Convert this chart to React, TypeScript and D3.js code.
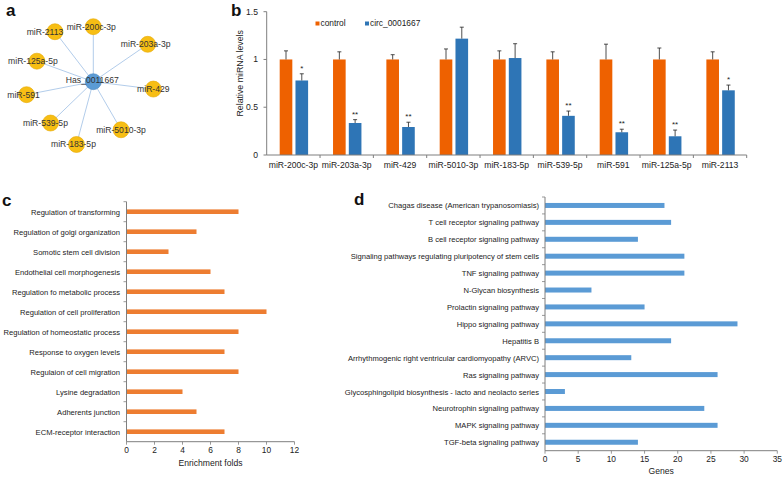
import React from 'react'
import * as d3 from 'd3'

// panel a - network
const hubName = 'Has_0011667'
const mirNodes = ['miR-200c-3p', 'miR-203a-3p', 'miR-429', 'miR-5010-3p', 'miR-183-5p', 'miR-539-5p', 'miR-591', 'miR-125a-5p', 'miR-2113']
const nodeAngles = [0, 55.5, 97, 150, 195, 226, 259, 290, 322.5]
const nodeDist = [55, 66, 60.5, 55.5, 65, 59.5, 68, 60, 63]
const labelDx = [-2, -2, 0, 0, -3, -5, -3, -4, -10]

// panel b - qPCR
const mirCats = ['miR-200c-3p', 'miR-203a-3p', 'miR-429', 'miR-5010-3p', 'miR-183-5p', 'miR-539-5p', 'miR-591', 'miR-125a-5p', 'miR-2113']
const seriesNames = ['control', 'circ_0001667']
const controlVals = [1, 1, 1, 1, 1, 1, 1, 1, 1]
const controlErr = [0.09, 0.08, 0.05, 0.11, 0.09, 0.08, 0.16, 0.12, 0.08]
const circVals = [0.78, 0.335, 0.293, 1.218, 1.015, 0.41, 0.238, 0.196, 0.677]
const circErr = [0.07, 0.035, 0.05, 0.12, 0.15, 0.05, 0.032, 0.065, 0.055]
const circSig = ['*', '**', '**', '', '', '**', '**', '**', '*']
const bTicks = [0, 0.5, 1, 1.5]

// panel c - GO enrichment
const goTerms = ['Regulation of transforming', 'Regulation of golgi organization', 'Somotic stem cell division', 'Endothelial cell morphogenesis', 'Regulation fo metabolic process', 'Regulation of cell proliferation', 'Regulation of homeostatic process', 'Response to oxygen levels', 'Regulaion of cell migration', 'Lysine degradation', 'Adherents junction', 'ECM-receptor interaction']
const goFolds = [8, 5, 3, 6, 7, 10, 8, 7, 8, 4, 5, 7]
const cTicks = [0, 2, 4, 6, 8, 10, 12]

// panel d - KEGG
const keggTerms = ['Chagas disease (American trypanosomiasis)', 'T cell receptor signaling pathway', 'B cell receptor signaling pathway', 'Signaling pathways regulating pluripotency of stem cells', 'TNF signaling pathway', 'N-Glycan biosynthesis', 'Prolactin signaling pathway', 'Hippo signaling pathway', 'Hepatitis B', 'Arrhythmogenic right ventricular cardiomyopathy (ARVC)', 'Ras signaling pathway', 'Glycosphingolipid biosynthesis - lacto and neolacto series', 'Neurotrophin signaling pathway', 'MAPK signaling pathway', 'TGF-beta signaling pathway']
const keggGenes = [18, 19, 14, 21, 21, 7, 15, 29, 19, 13, 26, 3, 24, 26, 14]
const dTicks = [0, 5, 10, 15, 20, 25, 30, 35]

const font = 'Liberation Sans, Arial, sans-serif'
const axisCol = '#7f7f7f'

const Network = () => {
  const cx = 93.3, cy = 81.7
  const pts = mirNodes.map((_, i) => {
    const [x, y] = d3.pointRadial((nodeAngles[i] * Math.PI) / 180, nodeDist[i])
    return [cx + x, cy + y]
  })
  return (
    <g fontFamily={font} fontSize={8.6} fill="#333">
      {pts.map((p, i) => (
        <line key={'e' + i} x1={cx} y1={cy} x2={p[0]} y2={p[1]} stroke="#a9c6e8" strokeWidth={0.9} />
      ))}
      {pts.map((p, i) => (
        <circle key={'n' + i} cx={p[0]} cy={p[1]} r={8} fill="#f7be14" stroke="#e6a800" strokeWidth={0.6} />
      ))}
      <circle cx={cx} cy={cy} r={8} fill="#5b9bd5" stroke="#4a88c2" strokeWidth={0.6} />
      {pts.map((p, i) => (
        <text key={'t' + i} x={p[0] + labelDx[i]} y={p[1] + 3} textAnchor="middle">{mirNodes[i]}</text>
      ))}
      <text x={cx - 1} y={cy + 1.5} textAnchor="middle">{hubName}</text>
    </g>
  )
}

const QpcrBars = () => {
  const x = d3.scaleBand().domain(mirCats).range([266.7, 746.7])
  const inner = d3.scaleBand().domain(seriesNames).range([13, 41.4]).paddingInner(0.2)
  const y = d3.scaleLinear().domain([0, 1.5]).range([155, 11.7])
  const colors = ['#ee6100', '#2e75b6']
  const vals = [controlVals, circVals]
  const errs = [controlErr, circErr]
  const bw = inner.bandwidth()
  return (
    <g fontFamily={font} fill="#222">
      {seriesNames.map((s, si) =>
        mirCats.map((c, i) => {
          const bx = x(c)! + inner(s)!
          const v = vals[si][i]
          const top = y(v + errs[si][i])
          const mid = bx + bw / 2
          return (
            <g key={s + c}>
              <rect x={bx} y={y(v)} width={bw} height={y(0) - y(v)} fill={colors[si]} />
              <line x1={mid} x2={mid} y1={y(v)} y2={top} stroke="#222" strokeWidth={0.8} />
              <line x1={mid - 2} x2={mid + 2} y1={top} y2={top} stroke="#222" strokeWidth={0.8} />
              {si === 1 && circSig[i] && (
                <text x={mid} y={top - 3} textAnchor="middle" fontSize={8}>{circSig[i]}</text>
              )}
            </g>
          )
        })
      )}
      <line x1={266.7} x2={266.7} y1={y(1.5)} y2={y(0)} stroke={axisCol} />
      <line x1={266.7} x2={746.7} y1={y(0)} y2={y(0)} stroke={axisCol} />
      {bTicks.map(t => (
        <g key={t}>
          <line x1={263.5} x2={266.7} y1={y(t)} y2={y(t)} stroke={axisCol} />
          <text x={258} y={y(t) + 3} textAnchor="end" fontSize={8.6}>{t}</text>
        </g>
      ))}
      {mirCats.map((c, i) => (
        <g key={c}>
          <line x1={x(c)! + x.bandwidth()} x2={x(c)! + x.bandwidth()} y1={y(0)} y2={y(0) + 3} stroke={axisCol} />
          <text x={x(c)! + x.bandwidth() / 2} y={168} textAnchor="middle" fontSize={8.6}>{c}</text>
        </g>
      ))}
      <text transform="translate(243,73.3) rotate(-90)" textAnchor="middle" fontSize={8.8}>Relative  miRNA levels</text>
      {seriesNames.map((s, si) => (
        <g key={s} transform={`translate(${[315.5, 365][si]},21.5)`}>
          <rect width={4} height={4} fill={colors[si]} />
          <text x={5} y={4.3} fontSize={8.4}>{s}</text>
        </g>
      ))}
    </g>
  )
}

const HBars = ({ terms, vals, ticks, xr, yr, color, barH, title, labelX, titleY }: any) => {
  const y = d3.scaleBand().domain(terms).range(yr)
  const x = d3.scaleLinear().domain([0, ticks[ticks.length - 1]]).range(xr)
  const x0 = xr[0]
  return (
    <g fontFamily={font} fill="#222" fontSize={7.6}>
      {terms.map((t: string, i: number) => (
        <g key={t}>
          <rect x={x0} y={y(t)! + y.bandwidth() / 2 - barH / 2} width={x(vals[i]) - x0} height={barH} fill={color} />
          <text x={labelX} y={y(t)! + y.bandwidth() / 2 + 3} textAnchor="end">{t}</text>
          <line x1={x0 - 3} x2={x0} y1={y(t)!} y2={y(t)!} stroke={axisCol} strokeWidth={0.8} />
        </g>
      ))}
      <line x1={x0} x2={x0} y1={yr[0]} y2={yr[1]} stroke={axisCol} />
      <line x1={x0} x2={xr[1]} y1={yr[1]} y2={yr[1]} stroke={axisCol} />
      {ticks.map((t: number) => (
        <g key={t}>
          <line x1={x(t)} x2={x(t)} y1={yr[1]} y2={yr[1] + 3} stroke={axisCol} strokeWidth={0.8} />
          <text x={x(t)} y={yr[1] + 11} textAnchor="middle" fontSize={8.4}>{t}</text>
        </g>
      ))}
      <text x={(xr[0] + xr[1]) / 2} y={titleY} textAnchor="middle" fontSize={8.6}>{title}</text>
    </g>
  )
}

export default function App() {
  return (
    <svg width={784} height={478} style={{ position: 'absolute', left: 0, top: 0, background: '#fff' }}>
      <g fontFamily={font} fontWeight="bold" fontSize={17} fill="#111">
        <text x={6} y={16}>a</text>
        <text x={231} y={16}>b</text>
        <text x={2} y={206}>c</text>
        <text x={354} y={205}>d</text>
      </g>
      <Network />
      <QpcrBars />
      <HBars terms={goTerms} vals={goFolds} ticks={cTicks} xr={[126.5, 294.5]} yr={[201.7, 441.7]} color="#ed7d31" barH={4.6} title="Enrichment folds" labelX={120} titleY={466} />
      <HBars terms={keggTerms} vals={keggGenes} ticks={dTicks} xr={[545, 777.3]} yr={[197, 450.7]} color="#5b9bd5" barH={5} title="Genes" labelX={539} titleY={474} />
    </svg>
  )
}
